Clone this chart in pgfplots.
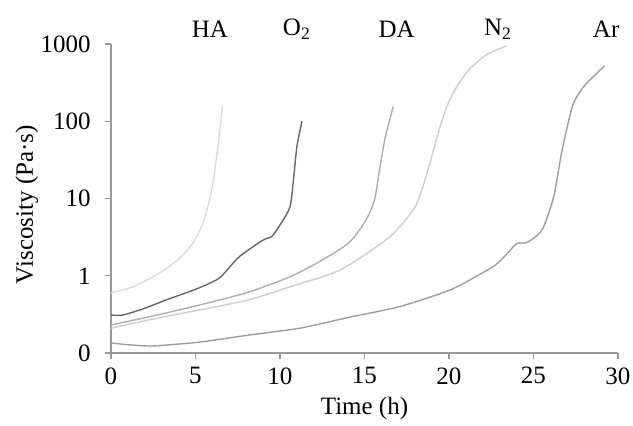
\documentclass[border=0pt]{standalone}
\usepackage{fontspec}
\setmainfont{Liberation Serif}
\usepackage{pgfplots}
\pgfplotsset{compat=1.18}

\pgfplotstableread{
t v
0 0.60
1.3 0.72
2.3 0.92
3.3 1.25
4.0 1.65
4.7 2.4
5.1 3.3
5.45 4.9
5.8 9
6.05 17
6.33 47
6.6 160
}\hadata
\pgfplotstableread{
t v
0 0.31
0.7 0.31
2 0.38
3.3 0.49
4.7 0.63
5.9 0.81
6.5 0.97
7.6 1.77
9.0 2.9
9.5 3.2
10.1 4.9
10.6 7.9
10.8 17.7
11.0 47
11.3 100
}\otwodata
\pgfplotstableread{
t v
0 0.23
3 0.32
6 0.46
8.2 0.62
10.6 0.97
12.5 1.6
14.1 2.7
15.1 5.3
15.6 9.7
15.8 17.7
16.2 58
16.7 155
}\dadata
\pgfplotstableread{
t v
0 0.21
3 0.29
5.5 0.37
8.2 0.49
10.6 0.72
13.6 1.2
16.5 3.2
17.9 7.2
18.4 13
18.9 30
19.4 75
19.9 160
20.5 290
21.2 470
22.2 720
23.4 950
}\ntwodata
\pgfplotstableread{
t v
0 0.135
1 0.128
2.3 0.123
3.5 0.128
5.3 0.139
8.2 0.171
11.2 0.21
14.1 0.29
17.1 0.40
20.1 0.66
22.6 1.31
23.5 2.0
24.0 2.6
24.6 2.7
25.2 3.3
25.6 4.3
26.2 10.6
26.7 43
27.3 157
27.8 250
28.2 320
29.2 520
}\ardata

\begin{document}
\fontsize{12.5}{15}\selectfont
\begin{tikzpicture}
\begin{axis}[
    scale only axis,
    width=253.5pt, height=154.5pt,
    ymode=log,
    xmin=0, xmax=30, ymin=0.1, ymax=1000,
    axis lines*=left,
    axis line style={black!40, line width=0.6pt},
    tick style={black!40, line width=0.6pt},
    tick align=outside,
    major tick length=3pt,
    xtick={0,5,...,30},
    ytick={0.1,1,10,100,1000},
    yticklabels={0,1,10,100,1000},
    yminorticks=false,
    /pgf/number format/assume math mode=true,
    yticklabel style={anchor=east, inner sep=0pt, xshift=-7pt},
    xticklabel style={anchor=north, inner sep=0pt, yshift=-4pt},
    xlabel={Time (h)},
    ylabel={Viscosity (Pa·s)},
    every axis x label/.style={at={(axis description cs:0.5,-0.178)}, anchor=center},
    every axis y label/.style={at={(axis description cs:-0.166,0.48)}, anchor=center, rotate=90},
    every axis plot/.append style={smooth, tension=0.4, line width=0.7pt},
    clip=false,
]
\addplot[black!14] table {\hadata};
\addplot[black!60] table {\otwodata};
\addplot[black!32] table {\dadata};
\addplot[black!20] table {\ntwodata};
\addplot[black!38] table {\ardata};

\node at (axis cs:5.85,1550) {HA};
\node at (axis cs:11.0,1550) {O\textsubscript{2}};
\node at (axis cs:16.9,1550) {DA};
\node at (axis cs:22.9,1550) {N\textsubscript{2}};
\node at (axis cs:29.3,1550) {Ar};
\end{axis}
\pgfresetboundingbox
\path[use as bounding box] (-55.5pt,-36pt) rectangle (261pt,176.5pt);
\end{tikzpicture}
\end{document}
